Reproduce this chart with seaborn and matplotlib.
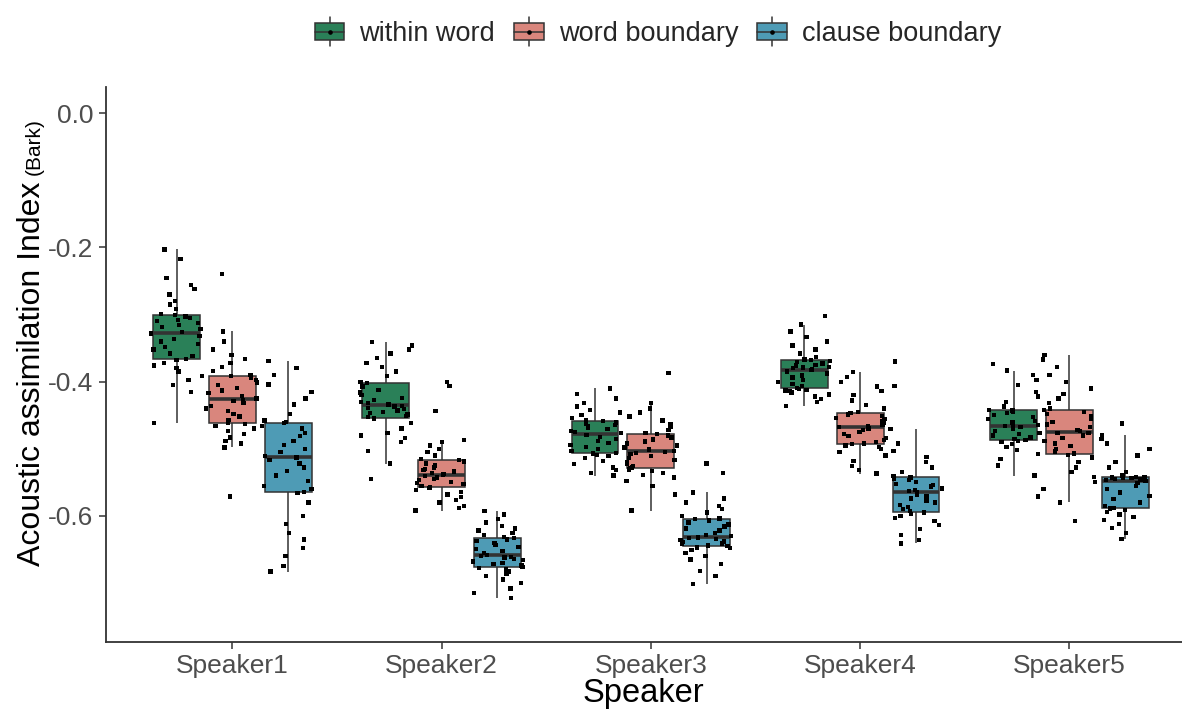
import numpy as np
import pandas as pd
import seaborn as sns
import matplotlib.pyplot as plt
from matplotlib.legend_handler import HandlerBase
from matplotlib.patches import Rectangle, Patch
from matplotlib.lines import Line2D

speakers = ['Speaker1', 'Speaker2', 'Speaker3', 'Speaker4', 'Speaker5']
positions = ['within word', 'word boundary', 'clause boundary']
box_colors = ['#2A8058', '#D9867D', '#4E9BB5']

# acoustic assimilation index (Bark)
s1_within = [-0.462, -0.415, -0.405, -0.398, -0.392, -0.385, -0.380, -0.376, -0.372, -0.368,
             -0.366, -0.362, -0.358, -0.352, -0.348, -0.344, -0.340, -0.336, -0.332, -0.328,
             -0.326, -0.322, -0.319, -0.316, -0.313, -0.310, -0.308, -0.305, -0.303, -0.301,
             -0.299, -0.292, -0.285, -0.280, -0.270, -0.262, -0.256, -0.245, -0.217, -0.203]
s1_word = [-0.571, -0.498, -0.492, -0.488, -0.483, -0.478, -0.474, -0.470, -0.466, -0.463,
           -0.461, -0.457, -0.452, -0.448, -0.444, -0.440, -0.436, -0.432, -0.429, -0.427,
           -0.425, -0.421, -0.417, -0.413, -0.409, -0.405, -0.401, -0.397, -0.394, -0.392,
           -0.390, -0.384, -0.378, -0.372, -0.366, -0.360, -0.352, -0.340, -0.325, -0.240]
s1_clause = [-0.683, -0.675, -0.660, -0.648, -0.635, -0.625, -0.612, -0.600, -0.580, -0.566,
             -0.564, -0.560, -0.555, -0.548, -0.540, -0.533, -0.528, -0.522, -0.517, -0.513,
             -0.511, -0.505, -0.500, -0.494, -0.488, -0.481, -0.476, -0.470, -0.466, -0.462,
             -0.460, -0.458, -0.448, -0.434, -0.425, -0.415, -0.404, -0.390, -0.380, -0.369]

s2_within = [-0.545, -0.522, -0.503, -0.490, -0.484, -0.480, -0.476, -0.470, -0.462, -0.455,
             -0.453, -0.451, -0.449, -0.447, -0.445, -0.443, -0.441, -0.439, -0.437, -0.436,
             -0.434, -0.432, -0.430, -0.427, -0.424, -0.420, -0.416, -0.412, -0.407, -0.402,
             -0.400, -0.392, -0.385, -0.378, -0.372, -0.365, -0.358, -0.352, -0.346, -0.341]
s2_word = [-0.592, -0.588, -0.585, -0.580, -0.576, -0.572, -0.568, -0.564, -0.561, -0.558,
           -0.557, -0.555, -0.553, -0.551, -0.549, -0.547, -0.545, -0.543, -0.541, -0.539,
           -0.538, -0.536, -0.534, -0.532, -0.530, -0.528, -0.525, -0.522, -0.519, -0.517,
           -0.515, -0.510, -0.505, -0.500, -0.495, -0.490, -0.487, -0.444, -0.406, -0.400]
s2_clause = [-0.722, -0.715, -0.708, -0.700, -0.695, -0.690, -0.686, -0.683, -0.680, -0.678,
             -0.676, -0.674, -0.672, -0.670, -0.668, -0.666, -0.664, -0.662, -0.661, -0.660,
             -0.658, -0.655, -0.652, -0.649, -0.646, -0.643, -0.640, -0.637, -0.635, -0.633,
             -0.631, -0.628, -0.625, -0.622, -0.619, -0.615, -0.610, -0.605, -0.598, -0.593]

s3_within = [-0.540, -0.536, -0.532, -0.528, -0.523, -0.518, -0.514, -0.511, -0.509, -0.507,
             -0.506, -0.503, -0.500, -0.497, -0.494, -0.491, -0.488, -0.485, -0.482, -0.479,
             -0.477, -0.475, -0.473, -0.471, -0.469, -0.467, -0.465, -0.463, -0.461, -0.459,
             -0.457, -0.454, -0.450, -0.446, -0.442, -0.437, -0.432, -0.425, -0.418, -0.410]
s3_word = [-0.592, -0.568, -0.555, -0.548, -0.543, -0.539, -0.536, -0.533, -0.531, -0.529,
           -0.528, -0.526, -0.523, -0.520, -0.517, -0.514, -0.511, -0.508, -0.506, -0.505,
           -0.503, -0.501, -0.498, -0.495, -0.492, -0.489, -0.486, -0.483, -0.480, -0.478,
           -0.476, -0.472, -0.468, -0.463, -0.458, -0.452, -0.446, -0.440, -0.432, -0.387]
s3_clause = [-0.701, -0.690, -0.682, -0.672, -0.665, -0.660, -0.655, -0.651, -0.648, -0.647,
             -0.645, -0.644, -0.642, -0.641, -0.639, -0.638, -0.636, -0.634, -0.633, -0.632,
             -0.630, -0.628, -0.625, -0.622, -0.619, -0.616, -0.613, -0.610, -0.607, -0.605,
             -0.604, -0.600, -0.595, -0.590, -0.585, -0.580, -0.574, -0.565, -0.536, -0.522]

s4_within = [-0.436, -0.430, -0.426, -0.422, -0.419, -0.416, -0.414, -0.413, -0.412, -0.411,
             -0.409, -0.406, -0.403, -0.400, -0.397, -0.394, -0.391, -0.388, -0.385, -0.383,
             -0.381, -0.380, -0.379, -0.378, -0.376, -0.375, -0.373, -0.371, -0.369, -0.368,
             -0.367, -0.363, -0.358, -0.352, -0.346, -0.340, -0.333, -0.325, -0.315, -0.302]
s4_word = [-0.537, -0.532, -0.526, -0.518, -0.510, -0.505, -0.500, -0.497, -0.495, -0.493,
           -0.492, -0.490, -0.487, -0.484, -0.481, -0.478, -0.475, -0.472, -0.470, -0.468,
           -0.467, -0.465, -0.463, -0.461, -0.459, -0.456, -0.454, -0.451, -0.449, -0.447,
           -0.445, -0.440, -0.435, -0.428, -0.420, -0.414, -0.407, -0.400, -0.393, -0.386]
s4_clause = [-0.641, -0.636, -0.628, -0.620, -0.614, -0.608, -0.603, -0.600, -0.597, -0.595,
             -0.593, -0.590, -0.587, -0.584, -0.580, -0.577, -0.574, -0.571, -0.568, -0.565,
             -0.563, -0.561, -0.559, -0.556, -0.554, -0.552, -0.549, -0.547, -0.545, -0.543,
             -0.541, -0.535, -0.528, -0.520, -0.512, -0.503, -0.492, -0.471, -0.406, -0.370]

s5_within = [-0.571, -0.540, -0.525, -0.515, -0.508, -0.502, -0.497, -0.493, -0.490, -0.488,
             -0.487, -0.485, -0.483, -0.480, -0.478, -0.476, -0.473, -0.470, -0.468, -0.466,
             -0.465, -0.463, -0.461, -0.459, -0.456, -0.453, -0.450, -0.447, -0.445, -0.443,
             -0.442, -0.437, -0.430, -0.422, -0.415, -0.405, -0.398, -0.390, -0.3835, -0.3735]
s5_word = [-0.608, -0.580, -0.560, -0.550, -0.542, -0.535, -0.528, -0.520, -0.513, -0.509,
           -0.507, -0.504, -0.500, -0.496, -0.492, -0.488, -0.484, -0.480, -0.477, -0.476,
           -0.474, -0.472, -0.468, -0.464, -0.460, -0.456, -0.452, -0.448, -0.445, -0.442,
           -0.440, -0.432, -0.425, -0.418, -0.410, -0.400, -0.390, -0.378, -0.367, -0.360]
s5_clause = [-0.634, -0.625, -0.618, -0.612, -0.606, -0.602, -0.598, -0.594, -0.591, -0.589,
             -0.588, -0.585, -0.580, -0.575, -0.570, -0.565, -0.560, -0.555, -0.551, -0.548,
             -0.547, -0.546, -0.545, -0.545, -0.544, -0.544, -0.543, -0.543, -0.542, -0.542,
             -0.540, -0.535, -0.528, -0.520, -0.510, -0.500, -0.492, -0.485, -0.480, -0.4625]

groups = {
    'Speaker1': [s1_within, s1_word, s1_clause],
    'Speaker2': [s2_within, s2_word, s2_clause],
    'Speaker3': [s3_within, s3_word, s3_clause],
    'Speaker4': [s4_within, s4_word, s4_clause],
    'Speaker5': [s5_within, s5_word, s5_clause],
}

rows = []
for spk in speakers:
    for pos, vals in zip(positions, groups[spk]):
        for v in vals:
            rows.append((spk, pos, v))
df = pd.DataFrame(rows, columns=['Speaker', 'Position', 'AAI'])


class BoxKey(HandlerBase):
    """ggplot-like boxplot legend key"""
    def create_artists(self, legend, orig_handle, xdescent, ydescent,
                       width, height, fontsize, trans):
        x0, y0 = -xdescent, -ydescent
        cx, cy = x0 + width / 2, y0 + height / 2
        bh = height * 0.6
        whisk = Line2D([cx, cx], [y0, y0 + height], color='#333333', lw=1.1, transform=trans)
        box = Rectangle((x0, cy - bh / 2), width, bh, facecolor=orig_handle.get_facecolor(),
                        edgecolor='#333333', lw=1.1, transform=trans)
        med = Line2D([x0, x0 + width], [cy, cy], color='#333333', lw=1.1, transform=trans)
        dot = Line2D([cx], [cy], marker='o', ms=2.3, color='black', lw=0, transform=trans)
        return [whisk, box, med, dot]


sns.set_theme(style='ticks')
plt.rcParams['font.family'] = ['Liberation Sans', 'DejaVu Sans']

W, H = 1182, 718
fig = plt.figure(figsize=(W / 100, H / 100), dpi=100)
left, right, top, bottom = 105.7, 1182, 87.3, 641.7
ax = fig.add_axes([left / W, 1 - bottom / H, (right - left) / W, (bottom - top) / H])

sns.boxplot(data=df, x='Speaker', y='AAI', hue='Position', order=speakers,
            hue_order=positions, palette=box_colors, saturation=1, width=0.8, gap=0.16,
            showcaps=False, showfliers=False, linecolor='#333333', linewidth=1.1,
            medianprops={'linewidth': 2.6}, legend=False, ax=ax)

np.random.seed(7)
sns.stripplot(data=df, x='Speaker', y='AAI', hue='Position', order=speakers,
              hue_order=positions, palette={p: 'black' for p in positions},
              dodge=True, jitter=0.38, size=3.1, marker='s', linewidth=0,
              legend=False, ax=ax)

ax.set_xlim(-0.605, 4.538)
ax.set_ylim(-0.7875, 0.0387)
ax.set_yticks([0.0, -0.2, -0.4, -0.6])
ax.set_yticklabels(['0.0', '-0.2', '-0.4', '-0.6'])
ax.tick_params(labelsize=19, labelcolor='#4D4D4D', color='#333333', length=5, width=1.1, pad=4)
sns.despine(ax=ax)
for side in ['left', 'bottom']:
    ax.spines[side].set_color('#333333')
    ax.spines[side].set_linewidth(1.3)
ax.set_xlabel('Speaker', fontsize=23.5, color='black', labelpad=0)
ax.set_ylabel('')

# y label with smaller unit
ylab = fig.text(40 / W, 1 - 566 / H, 'Acoustic assimilation Index', rotation=90,
                rotation_mode='anchor', ha='left', va='baseline', fontsize=23, color='black')
fig.canvas.draw()
bb = ylab.get_window_extent()
fig.text(40 / W, (bb.y1 + 7) / fig.bbox.height, '(Bark)', rotation=90,
         rotation_mode='anchor', ha='left', va='baseline', fontsize=15, color='black')

handles = [Patch(facecolor=c) for c in box_colors]
fig.legend(handles, positions, loc='center', bbox_to_anchor=(658 / W, 1 - 32 / H),
           ncol=3, frameon=False, fontsize=19.5, handler_map={Patch: BoxKey()},
           handlelength=1.1, handleheight=1.26, handletextpad=0.55, columnspacing=0.7)

fig.savefig('out.png', dpi=100)
